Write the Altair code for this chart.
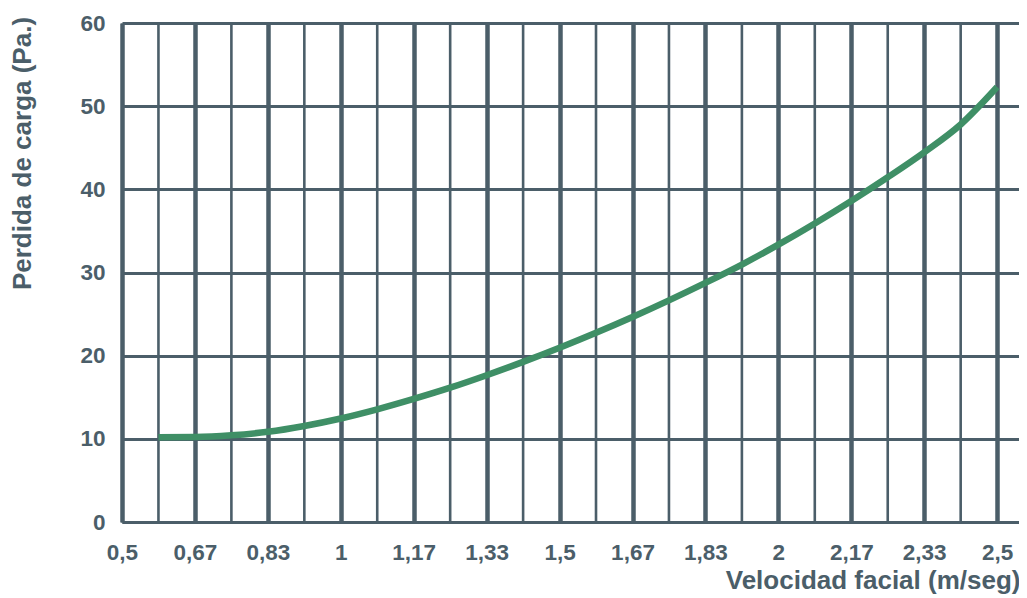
import altair as alt
import pandas as pd

# x tick positions (m/seg) and their printed labels
tick_values = [0.5, 0.6667, 0.8333, 1.0, 1.1667, 1.3333, 1.5, 1.6667, 1.8333, 2.0, 2.1667, 2.3333, 2.5]
tick_labels = ["0,5", "0,67", "0,83", "1", "1,17", "1,33", "1,5", "1,67", "1,83", "2", "2,17", "2,33", "2,5"]
# minor (thin) vertical grid lines
minor_values = [0.5833, 0.75, 0.9167, 1.0833, 1.25, 1.4167, 1.5833, 1.75, 1.9167, 2.0833, 2.25, 2.4167]
# y ticks
y_ticks = [0, 10, 20, 30, 40, 50, 60]

# curve
curve_x = [0.5833, 0.6667, 0.75, 0.8333, 0.9167, 1.0, 1.0833, 1.1667, 1.25, 1.3333, 1.4167, 1.5,
           1.5833, 1.6667, 1.75, 1.8333, 1.9167, 2.0, 2.0833, 2.1667, 2.25, 2.3333, 2.4167, 2.5]
curve_y = [10.2, 10.22, 10.42, 10.85, 11.55, 12.45, 13.55, 14.8, 16.15, 17.65, 19.25, 20.95,
           22.75, 24.65, 26.65, 28.75, 30.95, 33.35, 35.9, 38.6, 41.45, 44.45, 47.8, 52.3]

SLATE = "#4b5e69"
GREEN = "#3f8f66"
FONT = "Liberation Sans"

curve_df = pd.DataFrame({"v": curve_x, "p": curve_y})
minor_df = pd.DataFrame({"v": minor_values})

label_expr = "[" + ",".join("'%s'" % s for s in tick_labels) + "][round((datum.value-0.5)*6)]"

xscale = alt.Scale(domain=[0.5, 2.55], nice=False, zero=False)
yscale = alt.Scale(domain=[0, 60], nice=False, zero=True)

x_axis = alt.Axis(
    values=tick_values, labelExpr=label_expr, grid=True, gridColor=SLATE, gridWidth=4.5,
    gridOpacity=1, ticks=False, tickSize=0, domain=True, domainColor=SLATE, domainWidth=3,
    labelFont=FONT, labelFontSize=22.5, labelFontWeight="bold", labelColor=SLATE,
    labelPadding=19, labelFlush=False, labelOverlap=False,
    title="Velocidad facial (m/seg)", titleFont=FONT, titleFontSize=26, titleFontWeight="bold",
    titleColor=SLATE, titleAnchor="end", titleAlign="right", titleX=898, titleY=66,
    titleBaseline="alphabetic",
)
y_axis = alt.Axis(
    values=y_ticks, grid=True, gridColor=SLATE, gridWidth=3, gridOpacity=1,
    ticks=False, tickSize=0, domain=True, domainColor=SLATE, domainWidth=3,
    labelFont=FONT, labelFontSize=22.5, labelFontWeight="bold", labelColor=SLATE,
    labelPadding=17, labelFlush=False,
    title="Perdida de carga (Pa.)", titleFont=FONT, titleFontSize=26, titleFontWeight="bold",
    titleColor=SLATE, titleX=-100, titleY=130, titleAngle=270, titleAlign="center",
    titleBaseline="middle",
)

minor = alt.Chart(minor_df).mark_rule(color=SLATE, strokeWidth=2.6).encode(
    x=alt.X("v:Q", scale=xscale, axis=x_axis),
)
curve = alt.Chart(curve_df).mark_line(color=GREEN, strokeWidth=6.5, interpolate="monotone").encode(
    x=alt.X("v:Q", scale=xscale, axis=x_axis),
    y=alt.Y("p:Q", scale=yscale, axis=y_axis),
)

chart = alt.layer(minor, curve).properties(
    width=897, height=499,
    autosize=alt.AutoSizeParams(type="none"),
    padding={"left": 114, "top": 15, "right": 0, "bottom": 75},
).configure_view(stroke=None)

chart.save("out.html", embed_options={"renderer": "svg", "actions": False})
